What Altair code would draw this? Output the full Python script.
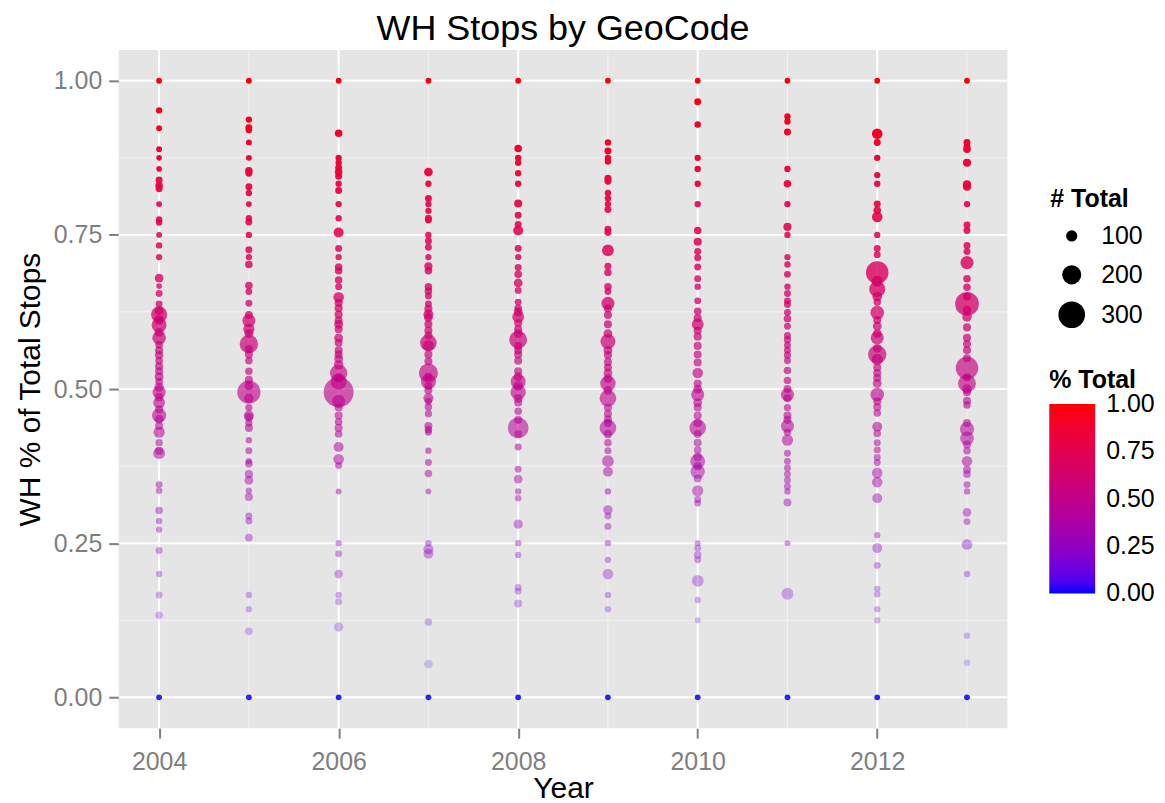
import altair as alt
import pandas as pd

FONT = "Liberation Sans"

years = [2004, 2005, 2006, 2007, 2008, 2009, 2010, 2011, 2012, 2013]

pct_2004 = [1.00, 0.952, 0.923, 0.889, 0.875, 0.857, 0.839, 0.830, 0.825, 0.800, 0.775, 0.770, 0.750, 0.733,
            0.714, 0.680, 0.667, 0.655, 0.638, 0.627, 0.621, 0.612, 0.604, 0.592, 0.583, 0.572, 0.563, 0.555,
            0.546, 0.537, 0.529, 0.520, 0.512, 0.503, 0.495, 0.487, 0.478, 0.467, 0.457, 0.451, 0.440, 0.430,
            0.413, 0.400, 0.396, 0.345, 0.335, 0.303, 0.286, 0.272, 0.238, 0.200, 0.166, 0.133, 0.0]
tot_2004 = [30, 38, 31, 31, 28, 28, 46, 54, 46, 31, 40, 40, 31, 38,
            38, 69, 28, 46, 46, 70, 161, 80, 146, 70, 130, 55, 60, 65,
            55, 60, 60, 70, 55, 75, 123, 70, 107, 65, 138, 70, 60, 100,
            50, 60, 107, 46, 40, 54, 38, 38, 46, 38, 46, 54, 30]

pct_2005 = [1.00, 0.937, 0.924, 0.920, 0.900, 0.875, 0.854, 0.850, 0.828, 0.818, 0.800, 0.777, 0.771, 0.750,
            0.726, 0.714, 0.702, 0.668, 0.658, 0.639, 0.620, 0.611, 0.597, 0.590, 0.573, 0.565, 0.556, 0.546,
            0.529, 0.515, 0.505, 0.495, 0.485, 0.470, 0.457, 0.454, 0.445, 0.437, 0.417, 0.400, 0.383, 0.379,
            0.362, 0.352, 0.335, 0.325, 0.294, 0.286, 0.259, 0.166, 0.143, 0.107, 0.0]
tot_2005 = [30, 38, 46, 40, 31, 31, 54, 46, 46, 38, 31, 38, 46, 38,
            46, 38, 54, 54, 46, 46, 60, 123, 100, 70, 191, 60, 60, 54,
            54, 60, 70, 253, 80, 50, 84, 70, 50, 60, 38, 46, 38, 54,
            61, 69, 38, 61, 46, 46, 54, 38, 38, 54, 30]

pct_2006 = [1.00, 0.915, 0.875, 0.867, 0.859, 0.852, 0.845, 0.833, 0.822, 0.800, 0.777, 0.754, 0.728, 0.714,
            0.698, 0.692, 0.677, 0.666, 0.649, 0.640, 0.631, 0.621, 0.611, 0.605, 0.597, 0.583, 0.575, 0.563,
            0.556, 0.549, 0.539, 0.526, 0.518, 0.512, 0.495, 0.480, 0.470, 0.457, 0.447, 0.437, 0.427, 0.406,
            0.386, 0.376, 0.334, 0.250, 0.233, 0.200, 0.166, 0.155, 0.114, 0.0]
tot_2006 = [30, 54, 38, 38, 46, 54, 46, 38, 46, 38, 38, 84, 46, 38,
            54, 54, 54, 46, 92, 60, 60, 60, 60, 70, 60, 70, 60, 60,
            60, 70, 80, 176, 70, 161, 345, 123, 60, 60, 54, 60, 54, 84,
            92, 46, 31, 38, 46, 69, 38, 46, 77, 30]

pct_2007 = [1.00, 0.852, 0.833, 0.809, 0.800, 0.789, 0.777, 0.774, 0.750, 0.740, 0.730, 0.714, 0.699, 0.692,
            0.666, 0.659, 0.651, 0.638, 0.630, 0.621, 0.616, 0.605, 0.595, 0.587, 0.575, 0.570, 0.556, 0.545,
            0.526, 0.520, 0.512, 0.505, 0.498, 0.485, 0.480, 0.471, 0.460, 0.440, 0.434, 0.430, 0.400, 0.381,
            0.363, 0.334, 0.250, 0.240, 0.233, 0.122, 0.054, 0.0]
tot_2007 = [30, 69, 38, 46, 38, 38, 46, 46, 38, 46, 46, 38, 61, 54,
            54, 54, 46, 46, 60, 84, 70, 60, 60, 60, 168, 100, 60, 60,
            199, 60, 146, 60, 60, 84, 50, 54, 50, 60, 54, 46, 38, 46,
            54, 31, 38, 84, 84, 54, 69, 30]

pct_2008 = [1.00, 0.890, 0.875, 0.867, 0.850, 0.833, 0.801, 0.782, 0.767, 0.757, 0.728, 0.714, 0.697, 0.686,
            0.672, 0.660, 0.641, 0.631, 0.625, 0.617, 0.607, 0.597, 0.590, 0.580, 0.570, 0.563, 0.556, 0.546,
            0.529, 0.520, 0.512, 0.505, 0.495, 0.485, 0.478, 0.464, 0.450, 0.437, 0.427, 0.406, 0.370, 0.354,
            0.334, 0.323, 0.281, 0.250, 0.231, 0.178, 0.172, 0.152, 0.0]
tot_2008 = [30, 54, 38, 38, 38, 38, 61, 46, 46, 84, 46, 38, 46, 54,
            69, 46, 46, 54, 70, 107, 60, 60, 70, 184, 60, 60, 60, 60,
            60, 70, 146, 80, 153, 70, 60, 54, 60, 222, 54, 46, 46, 69,
            38, 38, 77, 38, 38, 46, 46, 61, 30]

pct_2009 = [1.00, 0.900, 0.886, 0.875, 0.869, 0.842, 0.837, 0.818, 0.809, 0.800, 0.791, 0.759, 0.754, 0.725,
            0.699, 0.689, 0.666, 0.658, 0.639, 0.631, 0.620, 0.605, 0.590, 0.577, 0.563, 0.555, 0.544, 0.535,
            0.526, 0.517, 0.509, 0.498, 0.485, 0.470, 0.460, 0.451, 0.445, 0.437, 0.427, 0.413, 0.400, 0.383,
            0.366, 0.334, 0.304, 0.294, 0.277, 0.250, 0.223, 0.200, 0.166, 0.143, 0.0]
tot_2009 = [30, 38, 46, 38, 38, 46, 46, 38, 38, 38, 46, 46, 46, 107,
            46, 54, 54, 46, 123, 60, 60, 60, 70, 146, 70, 60, 60, 60,
            70, 70, 153, 70, 168, 60, 60, 60, 60, 168, 70, 54, 46, 107,
            84, 38, 77, 46, 46, 38, 38, 92, 38, 38, 30]

pct_2010 = [1.00, 0.966, 0.929, 0.875, 0.857, 0.833, 0.800, 0.757, 0.739, 0.723, 0.713, 0.698, 0.679, 0.666,
            0.643, 0.626, 0.615, 0.605, 0.595, 0.585, 0.570, 0.556, 0.543, 0.526, 0.509, 0.500, 0.491, 0.478,
            0.470, 0.457, 0.445, 0.437, 0.427, 0.413, 0.401, 0.390, 0.383, 0.375, 0.366, 0.355, 0.335, 0.321,
            0.315, 0.250, 0.242, 0.231, 0.223, 0.189, 0.158, 0.125, 0.0]
tot_2010 = [30, 46, 38, 38, 38, 38, 38, 54, 61, 46, 46, 46, 46, 38,
            46, 54, 60, 107, 60, 60, 60, 60, 60, 92, 60, 70, 123, 70,
            60, 60, 70, 168, 60, 60, 54, 70, 146, 70, 138, 60, 100, 46,
            46, 31, 46, 54, 46, 107, 38, 31, 30]

pct_2011 = [1.00, 0.942, 0.934, 0.917, 0.857, 0.833, 0.800, 0.763, 0.750, 0.714, 0.702, 0.686, 0.666, 0.655,
            0.643, 0.637, 0.624, 0.614, 0.602, 0.587, 0.580, 0.571, 0.563, 0.555, 0.546, 0.530, 0.514, 0.500,
            0.491, 0.485, 0.470, 0.457, 0.450, 0.440, 0.430, 0.417, 0.396, 0.383, 0.372, 0.362, 0.352, 0.342,
            0.334, 0.316, 0.250, 0.168, 0.0]
tot_2011 = [30, 38, 38, 46, 38, 54, 38, 61, 38, 38, 38, 46, 38, 46,
            46, 46, 46, 54, 46, 46, 50, 46, 46, 50, 46, 54, 54, 60,
            123, 60, 50, 60, 60, 123, 54, 100, 46, 46, 46, 46, 46, 46,
            38, 61, 31, 107, 30]

pct_2012 = [1.00, 0.914, 0.900, 0.875, 0.847, 0.833, 0.800, 0.790, 0.779, 0.750, 0.728, 0.718, 0.689, 0.675,
            0.662, 0.650, 0.641, 0.624, 0.612, 0.602, 0.590, 0.583, 0.566, 0.556, 0.548, 0.535, 0.526, 0.518,
            0.509, 0.491, 0.480, 0.471, 0.461, 0.439, 0.428, 0.413, 0.401, 0.389, 0.381, 0.364, 0.349, 0.323,
            0.263, 0.242, 0.214, 0.176, 0.167, 0.143, 0.125, 0.0]
tot_2012 = [30, 92, 46, 38, 38, 38, 46, 54, 92, 38, 46, 46, 245, 100,
            161, 80, 54, 130, 60, 70, 70, 123, 70, 191, 100, 60, 60, 60,
            70, 130, 60, 60, 54, 84, 54, 46, 46, 46, 46, 92, 92, 84,
            38, 84, 46, 38, 38, 38, 38, 30]

pct_2013 = [1.00, 0.900, 0.893, 0.889, 0.867, 0.832, 0.828, 0.800, 0.766, 0.757, 0.733, 0.723, 0.705, 0.679,
            0.665, 0.650, 0.638, 0.628, 0.617, 0.600, 0.583, 0.573, 0.563, 0.550, 0.534, 0.519, 0.509, 0.500,
            0.495, 0.481, 0.474, 0.445, 0.435, 0.420, 0.410, 0.400, 0.383, 0.369, 0.362, 0.345, 0.334, 0.300,
            0.285, 0.248, 0.200, 0.100, 0.056, 0.0]
tot_2013 = [30, 46, 46, 54, 61, 61, 61, 38, 46, 46, 46, 46, 123, 54,
            54, 60, 260, 70, 80, 60, 60, 60, 60, 60, 245, 60, 184, 80,
            60, 60, 54, 60, 138, 130, 60, 54, 92, 60, 54, 46, 38, 69,
            46, 92, 38, 38, 38, 30]

pct_by_year = [pct_2004, pct_2005, pct_2006, pct_2007, pct_2008,
               pct_2009, pct_2010, pct_2011, pct_2012, pct_2013]
tot_by_year = [tot_2004, tot_2005, tot_2006, tot_2007, tot_2008,
               tot_2009, tot_2010, tot_2011, tot_2012, tot_2013]

major_x = [2004, 2006, 2008, 2010, 2012]
minor_x = [2005, 2007, 2009, 2011, 2013]
major_y = [0.0, 0.25, 0.5, 0.75, 1.0]
minor_y = [0.125, 0.375, 0.625, 0.875]

rows = []
for yr, ps, ts in zip(years, pct_by_year, tot_by_year):
    for p, t in zip(ps, ts):
        rows.append({"year": yr, "pct": p, "total": t})
df = pd.DataFrame(rows)

xscale = alt.Scale(domain=[2003.55, 2013.45], nice=False, zero=False)
yscale = alt.Scale(domain=[-0.05, 1.05], nice=False, zero=False)

xaxis = alt.Axis(values=major_x, format="d", title="Year", grid=False,
                 labelPadding=11, titlePadding=0)
yaxis = alt.Axis(values=major_y, format=".2f", title="WH % of Total Stops", grid=False,
                 labelPadding=7, titlePadding=8)

minor_v = alt.Chart(pd.DataFrame({"year": minor_x})).mark_rule(color="#F2F2F2", strokeWidth=1).encode(
    x=alt.X("year:Q", scale=xscale, axis=xaxis))
minor_h = alt.Chart(pd.DataFrame({"pct": minor_y})).mark_rule(color="#F2F2F2", strokeWidth=1).encode(
    y=alt.Y("pct:Q", scale=yscale, axis=yaxis))
major_v = alt.Chart(pd.DataFrame({"year": major_x})).mark_rule(color="white", strokeWidth=2).encode(
    x=alt.X("year:Q", scale=xscale, axis=xaxis))
major_h = alt.Chart(pd.DataFrame({"pct": major_y})).mark_rule(color="white", strokeWidth=2).encode(
    y=alt.Y("pct:Q", scale=yscale, axis=yaxis))

# alpha grows with % Total, as in the original; the many stacked zero-rows read as solid blue
points = alt.Chart(df).transform_calculate(
    alpha="datum.pct == 0 ? 0.85 : min(1, 0.15 + 0.95 * datum.pct)"
).mark_circle(strokeWidth=0, opacity=1).encode(
    x=alt.X("year:Q", scale=xscale, axis=xaxis),
    y=alt.Y("pct:Q", scale=yscale, axis=yaxis),
    size=alt.Size("total:Q",
                  scale=alt.Scale(type="pow", exponent=1.7, domain=[0, 350], range=[20, 920]),
                  legend=alt.Legend(title="# Total", values=[100, 200, 300], orient="none",
                                    legendX=934, legendY=137, direction="vertical",
                                    symbolFillColor="black", symbolStrokeWidth=0, symbolOpacity=1,
                                    symbolType="circle", symbolOffset=8, labelOffset=16,
                                    rowPadding=13, titlePadding=12)),
    color=alt.Color("pct:Q",
                    scale=alt.Scale(domain=[-0.0002, 1.0002], range=["#0000ff", "#ff0000"],
                                    interpolate="lab", nice=False, zero=False),
                    legend=alt.Legend(title="% Total", orient="none", legendX=933, legendY=319,
                                      direction="vertical", type="gradient",
                                      values=[0, 0.25, 0.5, 0.75, 1.0], format=".2f",
                                      gradientLength=190, gradientThickness=46,
                                      gradientStrokeWidth=0, labelOffset=11,
                                      titlePadding=11)),
    opacity=alt.Opacity("alpha:Q", scale=None),
)

chart = alt.layer(minor_v, minor_h, major_v, major_h, points).properties(
    width=891, height=680,
    autosize=alt.AutoSizeParams(type="none"),
    padding={"left": 111, "top": 41, "right": 150, "bottom": 74},
    title=alt.Title("WH Stops by GeoCode", fontSize=36, font=FONT, fontWeight="normal",
                    color="black", anchor="middle", offset=1),
).configure_view(
    fill="#E5E5E5", stroke=None
).configure_axis(
    domain=False, tickColor="#7F7F7F", tickSize=10, tickWidth=2,
    labelColor="#7F7F7F", labelFont=FONT, labelFontSize=25,
    titleFont=FONT, titleFontSize=30, titleFontWeight="normal", titleColor="black",
).configure_legend(
    labelFont=FONT, labelFontSize=25, labelColor="black",
    titleFont=FONT, titleFontSize=25, titleFontWeight="bold", titleColor="black",
)

chart.save("out.html", embed_options={"renderer": "svg", "actions": False})
